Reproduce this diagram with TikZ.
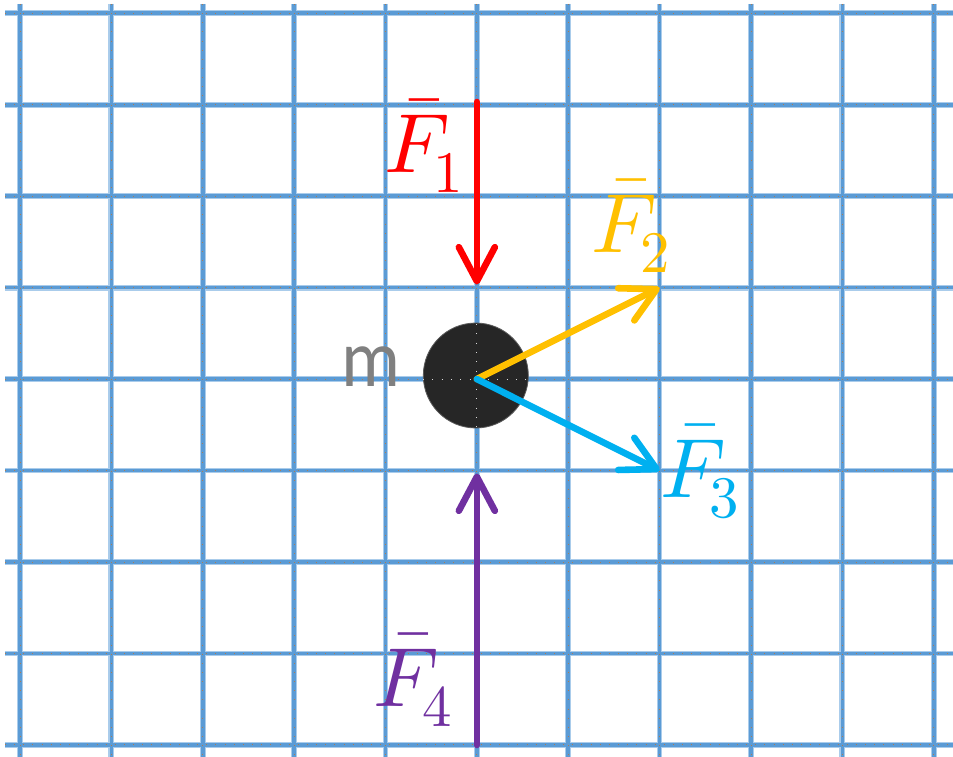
\documentclass[tikz,border=0pt]{standalone}
\usepackage{fontspec}
\usepackage{unicode-math}
\usepackage{graphicx}
\newfontfamily\labelsans{Carlito}
\usetikzlibrary{arrows.meta}
\definecolor{gridblue}{RGB}{91,155,213}
\definecolor{gridhalo}{RGB}{170,204,235}
\definecolor{dotbrown}{RGB}{175,125,80}
\definecolor{fone}{RGB}{255,0,0}
\definecolor{ftwo}{RGB}{255,192,0}
\definecolor{fthree}{RGB}{0,176,240}
\definecolor{ffour}{RGB}{112,48,160}
\definecolor{massfill}{RGB}{38,38,38}
\definecolor{massedge}{RGB}{90,90,90}
\definecolor{mgray}{RGB}{128,128,128}
\begin{document}
\begin{tikzpicture}[x=1pt,y=-1pt,
  gridline/.style={gridblue, line width=3.6pt},
  gridglow/.style={gridhalo, line width=5.8pt},
  griddots/.style={dotbrown, line width=0.9pt, dash pattern=on 0.9pt off 8.25pt},
  crossdots/.style={white!85!black, line width=0.9pt, dash pattern=on 0.9pt off 8.4pt},
  force/.style={line width=6.6pt, line cap=round, -{Straight Barb[length=34pt,width=36pt,round]}},
  flabel/.style={inner sep=0pt, anchor=base west, font=\fontsize{84}{90}\selectfont},
]
\useasboundingbox (0,0) rectangle (953,757);
\fill[white] (0,0) rectangle (953,757);
% grid
\foreach \i in {0,...,10} {
  \pgfmathsetmacro\xx{20+91.37*\i}
  \draw[gridglow] (\xx,4) -- (\xx,757);
}
\foreach \j in {0,...,8} {
  \pgfmathsetmacro\yy{13.3+91.45*\j}
  \draw[gridglow] (5,\yy) -- (953,\yy);
}
\foreach \i in {0,...,10} {
  \pgfmathsetmacro\xx{20+91.37*\i}
  \draw[gridline] (\xx,4) -- (\xx,757);
}
\foreach \j in {0,...,8} {
  \pgfmathsetmacro\yy{13.3+91.45*\j}
  \draw[gridline] (5,\yy) -- (953,\yy);
}
\foreach \i in {0,...,10} {
  \pgfmathsetmacro\xx{20+91.37*\i}
  \draw[griddots] (\xx,4) -- (\xx,757);
}
\foreach \j in {0,...,8} {
  \pgfmathsetmacro\yy{13.3+91.45*\j}
  \draw[griddots] (5,\yy) -- (953,\yy);
}
% key points
\coordinate (c) at (476.85,379.1);
\coordinate (t1) at (476.85,102);
\coordinate (h1) at (476.85,284.5);
\coordinate (e2) at (659.6,287.65);
\coordinate (e3) at (659.6,470.55);
\coordinate (t4) at (476.85,745);
\coordinate (h4) at (476.85,473.5);
% mass
\node[circle, fill=massfill, draw=massedge, line width=0.8pt, minimum size=105pt, inner sep=0pt] (mass) at (475.8,375.5) {};
\draw[crossdots] (476.85,324) -- (476.85,428);
\draw[crossdots] (423,379.1) -- (528,379.1);
\node[inner sep=0pt, anchor=base west, text=mgray, font=\labelsans\fontsize{82}{90}\selectfont] (mlabel) at (341,386) {\scalebox{0.9}[1]{m}};
% forces
\draw[force, fone] (t1) -- (h1);
\draw[force, ftwo] (c) -- (e2);
\draw[force, fthree] (c) -- (e3);
\draw[force, ffour] (t4) -- (h4);
% labels
\node[flabel, text=fone] (l1) at (384,172) {$\bar{F}_{\mkern-1.5mu 1}$};
\node[flabel, text=ftwo] (l2) at (591,252) {$\bar{F}_{\mkern-1.5mu 2}$};
\node[flabel, text=fthree] (l3) at (660,497) {$\bar{F}_{\mkern-1.5mu 3}$};
\node[flabel, text=ffour] (l4) at (373,706) {$\bar{F}_{\mkern-1.5mu 4}$};
\end{tikzpicture}
\end{document}
